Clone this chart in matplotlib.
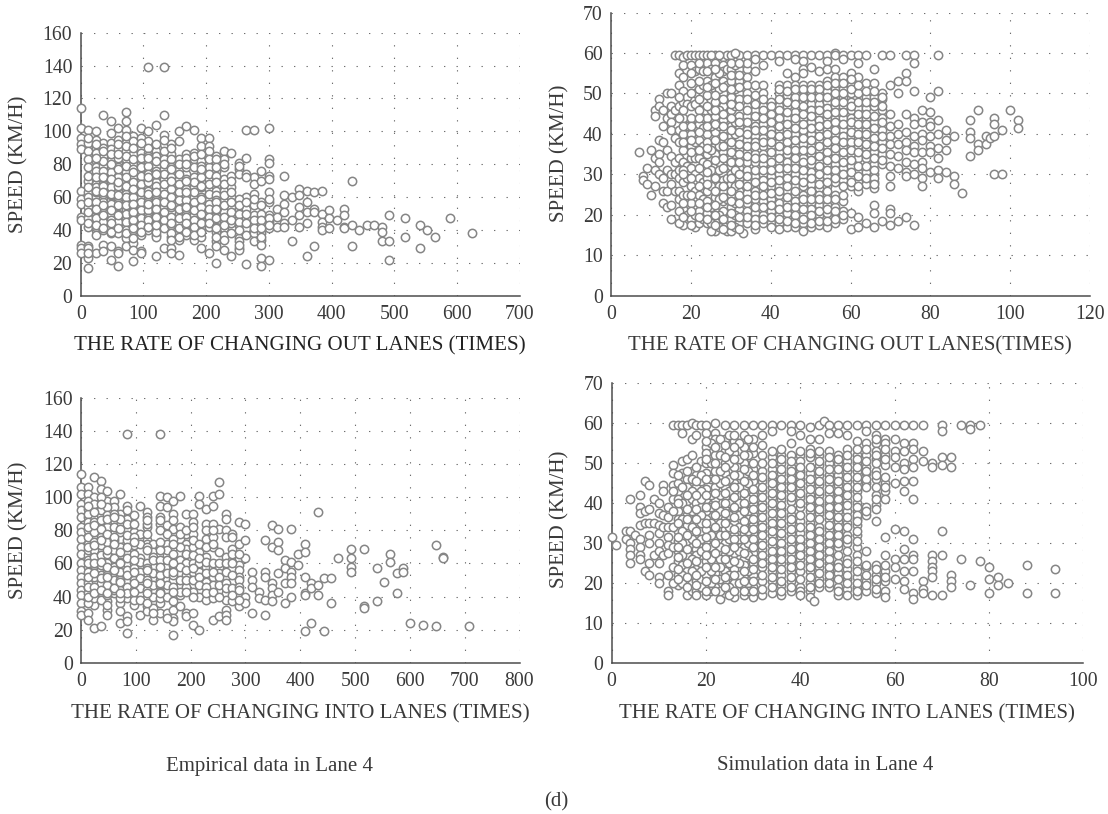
import matplotlib
matplotlib.use("Agg")
import matplotlib.pyplot as plt

plt.rcParams['font.family'] = ['Liberation Serif', 'DejaVu Serif']

W, H = 1108, 814

emp_out = [
 (0,[114,102,96,92,89,64,59,56,48,46,31,29,26]),
 (12,[101,93,88,83,78,70,63,60,54,47,42,30,29,23,17]),
 (24,[100,95,90,86,82,78,68,66,60,55,50,45,40,26]),
 (36,[110,93,90,85,79,70,65,60,57,51,47,43,31,27]),
 (48,[106,99,93,89,82,77,72,69,64,58,54,48,43,38,30,22]),
 (60,[102,95,89,80,75,70,65,63,58,52,47,43,40,27,26,18]),
 (72,[112,106,101,93,88,83,75,70,65,62,57,52,47,42,35,30]),
 (84,[97,94,86,80,72,67,62,58,53,48,43,37,32,28,21]),
 (96,[102,96,90,87,80,75,71,65,60,55,50,45,41,37,27,26]),
 (108,[139,100,94,87,82,77,71,67,60,54,49,44,40]),
 (120,[104,88,85,79,72,69,65,59,55,50,45,37,36,24]),
 (132,[139,110,98,92,86,77,71,65,59,54,49,44,29]),
 (144,[92,86,81,75,68,63,57,51,46,40,36,29,26]),
 (156,[100,94,83,77,71,66,61,56,50,44,38,34,25]),
 (168,[103,86,82,74,68,60,56,51,46,41,37]),
 (180,[101,87,83,72,66,60,54,49,44,40,34]),
 (192,[96,91,82,75,69,63,57,52,47,42,36,29]),
 (204,[96,91,86,78,71,65,59,51,46,42,26]),
 (216,[85,81,76,67,64,55,50,45,39,33,30,20]),
 (228,[88,83,78,71,64,58,51,45,41,37,34,28]),
 (240,[87,73,66,60,54,48,44,24]),
 (252,[81,77,74,57,53,47,43,35,33,29,28]),
 (264,[101,84,74,60,53,47,41,37,19]),
 (276,[101,72,68,62,55,49,44,38,33]),
 (288,[76,70,57,48,44,38,34,31,23,18]),
 (300,[102,83,81,73,71,63,57,49,45,41,22]),
 (312,[53,48,42]),(324,[73,61,56,51,44,42]),(336,[60,46,33]),
 (348,[65,61,54,49,42]),(360,[64,57,51,44,24]),(372,[63,53,51,30]),
 (384,[64,50,45,42,40]),(396,[52,47,41]),(408,[46]),(420,[53,49,42,41]),
 (432,[70,43,30]),(444,[40]),(456,[43]),(468,[43]),(480,[42,39,33]),
 (492,[49,33,22]),(516,[47,36]),(540,[43,29]),(552,[40]),(564,[36]),
 (588,[47]),(624,[38]),
]
emp_out_dense = [
 (12,[96,73,66,57,51,44,26]),(24,[87,74,63,57,52,47,42,37]),
 (36,[88,82,74,68,62,54,45,40]),(48,[86,75,66,61,56,50,46,41]),
 (60,[92,84,78,72,67,60,55,50,45,38]),(72,[97,91,85,79,72,67,60,55,50,45,40,38]),
 (84,[90,83,77,69,64,60,55,50,45,40,35]),(96,[93,84,78,73,68,63,57,52,47,43,39]),
 (108,[90,85,79,74,69,64,57,52,47,42]),(120,[92,82,76,74,67,62,57,52,47,42,39]),
 (132,[95,88,83,80,74,68,62,57,51,46,41]),(144,[90,83,78,72,65,60,54,48,43,38]),
 (156,[80,74,68,63,58,53,47,41,36]),(168,[84,78,71,65,58,53,48,43,39]),
 (180,[85,78,69,63,57,52,46,42,37]),(192,[86,79,72,66,60,54,49,44]),
 (204,[88,83,74,68,62,56,53,48,44]),(216,[83,78,72,61,58,52,47,42,36]),
 (228,[80,68,61,55,48,43]),(240,[70,63,57,51,46,38]),(252,[79,59,55,50,45,40,31]),
 (264,[72,57,50,44]),(276,[59,46,41]),(288,[55,50,46,41,36]),(300,[59,47,43]),
 (24,[92,84,76,72,64,53,43]),(36,[76,72,67,63,55,49,41]),(48,[80,71,62,52,44,39]),
 (60,[86,77,69,61,49,41]),(84,[75,65,56,51,46,41]),(108,[84,72,62,56,46,42]),
 (120,[74,63,53,48,43]),(144,[77,70,55,44,34]),(168,[80,70,63,54,44]),
 (192,[77,67,59,50,39]),(216,[73,69,57,53,41]),
]

sim_out = [
 (7,[35.5]),(8,[29.5,28.5]),(9,[31.5,27.5]),(10,[36,25]),
 (11,[46,44.5,34,31,27]),(12,[48.5,47,38.5,35,33,30]),
 (13,[46,42,38,29,26,23]),(14,[50,44,36,31,26,22]),
 (15,[50,47,45,43,41,34.5,30,27.5,22.5,19]),(16,[59.5,46,39,33,30,26]),
 (17,[59.5,52,47,41,34,29,26,24]),
 (18,[59,57,50.5,48,44,40,36,33,28,25,21.5,17.5]),
 (19,[59.5,49,47.5,42,38,32,29,25,20]),
 (20,[59.5,57,52.5,47,44,40,37,34,31.5,27,23,19]),
 (21,[59.5,55.5,50,47.5,42,38,34,30,26,20,17]),
 (22,[59.5,56,51,46,42.5,38.5,34,29,25,21,18]),
 (23,[59.5,55.5,52,48,44,41.5,37,33,28,24,19]),
 (24,[59.5,57.5,53,49.5,44,40,38,35,32.5,29,26,23.5,20.5,18]),
 (26,[59.5,57.5,54,51,48,44.5,40.5,37,35,32,30,27,24.5,21,18.5,16]),
 (28,[59,57,55.5,53,50,47,43.5,41,38,35.5,33,30,28.5,26,23.5,21,17.5]),
 (29,[59.5,56,52,45,39,34,29,24,19,16]),
 (30,[59.5,56,53,49,46,42,39.5,37,34,32,30,27.5,25,22,19,16]),
 (32,[59.5,56,53,50,48.5,44.5,42,39,36,34,31.5,29,26,25,21.5,18]),
 (33,[15.5]),
 (34,[59.5,56,54,52,50,47,44.5,41,38.5,35.5,33,31,28,25.5,23,21,18]),
 (36,[59.5,58.5,55.5,52,49.5,46,43,42,39.5,38,35,33,29.5,26,24,20.5,16.5]),
 (38,[59.5,57,52,50,47,45,42.5,39,37,35,32.5,30,28.5,26,23.5,20,18]),
 (40,[59.5,48,46,44,41,39,37,34,32,29.5,27,24,21,18,17]),
 (42,[59.5,58,52,50,47,45.5,43,41,38,35.5,33,30,27,25,23,20,18,16.5]),
 (44,[59.5,55,52,49.5,47,44,41,39,37,35,33,30.5,28,26,23,20.5,17]),
 (46,[59.5,58.5,54,52,49,45.5,43,40,37,35.5,33,30,27,25,23.5,21,19,17]),
 (48,[59.5,58,56,52,50.5,48,46,44,41,37.5,34,32,29.5,27,25,23,20,18,16]),
 (50,[59.5,56.5,52,50,47.5,46,43,40,37,35,32.5,30.5,27.5,25,23,21.5,19,17]),
 (52,[59.5,55.5,52,50,47.5,45,43.5,41,38.5,36,33,31,29,26.5,25,22.5,20,17.5]),
 (54,[59.5,58,56,53,50.5,48,46.5,44,41,39,37,34.5,32.5,29.5,27,25,22.5,20.5,17]),
 (56,[60,59.5,56,54,51,49,47,44,42.5,40,37.5,35.5,32.5,30,28,25,22,20.5,18]),
 (58,[59.5,58.5,54,51,49,47,44,41,39.5,37,34,31.5,28.5,23.5,21,19]),
 (60,[59.5,55,52,50,48,46,44,42,39.5,37,35,32,29,27,20.5,16.5]),
 (62,[59.5,57.5,54,50,46.5,44,41,39,37,34,30.5,28,26,19.5,17]),
 (64,[59.5,52.5,49,46.5,44,41,39,36.5,34,30.5,27.5,18]),
 (66,[56,52.5,49,47,43,40,38,35.5,32.5,30,28,26.5,22.5,20.5,17]),
 (68,[59.5,50,48.5,46,44,41,38,35,32.5,18.5]),
 (70,[59.5,52,45,42,39.5,37.5,35,32,29.5,27,21.5,20.5,17.5]),
 (72,[53,50,42.5,40,37.5,34.5,31.5,18.5]),
 (74,[59.5,55,53,45,40.5,38,36,33,30.5,29.5,19.5]),
 (76,[59.5,57.5,50.5,44,42.5,39.5,37,35.5,32.5,30,17.5]),
 (78,[46,43,40,38.5,35.5,33,31.5,29,27]),
 (80,[49,45.5,43,42,39.5,37,35.5,30.5]),
 (82,[59.5,50.5,43.5,40,36.5,34,31,29]),
 (84,[41,38.5,36,30.5]),(86,[39.5,29.5,27.5]),(88,[25.5]),
 (90,[43.5,40.5,39,34.5]),(92,[46,37.5,36]),(94,[39.5,37.5]),(95,[39]),
 (96,[44,42.5,39.5,30]),(98,[41,30]),(100,[46]),(102,[43.5,41.5]),
]
sim_out_dense = [
 (17,[55,49,44,38,31,21,18]),(25,[59.5,56,52,46,42,36,31,27,22,18,16]),
 (27,[59.5,55,51,46,42,37,33,31,27,24,20,17]),(31,[60,57,51,47,43,40,35,31,27,23,20,17]),
 (34,[57.5,48.5,46,43,40,37,34.5,29.5,27,24,19.5]),
 (36,[47.5,44.5,41,37,34,31,28,25,22,19,17.5]),
 (38,[48.5,46,44,41,38,34,31,27,25,22,19]),
 (40,[47,45,43,40,38,35.5,33,31,28,25.5,22.5,19.5]),
 (42,[51,48.5,46,44,42,39.5,37,34,31.5,28.5,26,21.5,19]),
 (44,[50.5,48,45.5,42.5,40,38,36,31.5,29,27,24.5,22,18.5]),
 (46,[51,47.5,44,41.5,38.5,36,34,31.5,28.5,26,22,20,18]),
 (48,[55,51,49,47,45,42.5,39,36,33,31,28,24,21.5,19]),
 (50,[51,49,44.5,41.5,38.5,36,33.5,29,26,24,20,18]),
 (52,[51,49,46,42,39.5,37,34.5,32,30,27.5,24,21,18.5]),
 (54,[52,49,45,42.5,40,38,35.5,33.5,31,28,26,24,21.5,18.5]),
 (56,[52.5,50,48,45.5,43,41,38.5,36.5,34,31,29,24,21,19]),
 (58,[52.5,50,48,45.5,42.5,38,35.5,33,30,27,25,20]),
 (60,[53.5,51,47,43,40.5,38,36,33.5,30.5,28]),
 (62,[52,48,45,42.5,40,38,35.5,32,29.5,27]),
 (64,[50.5,48,45,42.5,40,37.5,35,32,29]),
 (66,[50.5,48,44.5,41.5,39,37,34,31,29,27.5]),
 (68,[49,47,43,39.5,36.5,33.5]),
 (18,[54,46,42,38,31,30,23,19.5]),(20,[55,50,42,38.5,35.5,29,25,21,17.5]),
 (22,[57.5,53,48.5,44,40.5,36,31.5,27,23,19.5]),(24,[55.5,51.5,47,42,36.5,30.5,27.5,22,19]),
 (26,[56,52.5,49.5,46,42.5,38.5,33.5,29,26,22.5,20,17.5]),
 (28,[51.5,48.5,45,42,39.5,37,34,31.5,27,24.5,19,16.5]),
 (30,[57.5,54.5,51,47.5,44,41,38,35.5,33,29,26,23.5,20.5,17.5]),
 (32,[57.5,54.5,51.5,47,43,40.5,37.5,35,33,30,27.5,23,19.5,16.5]),
]

emp_in = [
 (0,[114,106,102,96,92,88,82,79,75,70,66,60,56,52,48,44,41,36,31,29]),
 (12,[106,102,93,88,80,72,65,58,50,45,30,26]),
 (24,[112,100,93,88,82,76,70,66,62,56,48,40,37,35,21]),
 (36,[110,105,94,89,84,79,68,63,56,46,41,22]),
 (48,[104,98,85,80,75,70,63,56,50,44,37,32,29]),
 (60,[98,94,86,78,70,66,61,53,47,42]),
 (72,[102,90,83,75,64,58,53,47,36,31,24]),
 (84,[138,95,87,80,74,66,60,50,39,28,25,18]),
 (96,[89,79,71,60,53,46,41,35]),
 (108,[95,78,63,58,48,42,29]),
 (120,[91,88,82,74,72,54,47,39,34,31]),
 (132,[72,67,60,58,50,44,33,26]),
 (144,[138,101,95,88,84,80,70,65,50,36,30]),
 (156,[100,94,83,72,65,58,50,44,30]),
 (168,[98,90,81,70,62,56,50,41,32,27,25,17]),
 (180,[101,82,75,62,54,46,41,34]),
 (192,[90,78,72,69,60,53,46,30,28]),
 (204,[90,85,78,70,60,55,43,30,23]),
 (216,[101,96,67,60,55,40,20]),
 (228,[93,84,80,75,64,58,49,38]),
 (240,[101,95,84,76,70,57,52,47,39,26]),
 (252,[109,102,81,67,58,54,43,28]),
 (264,[90,87,80,76,64,52,42,38,32,29,26]),
 (276,[78,76,69,62,49,37]),
 (288,[85,72,63,59,56,52,41,34]),
 (300,[84,74,63,40,36]),(312,[55,50,46,30]),(324,[43,39]),
 (336,[74,55,52,38,29]),(348,[83,70,48,45,41,37]),(360,[81,73,68,54,43]),
 (372,[62,57,48,36]),(384,[81,61,55,52,48,40]),(396,[66,59]),
 (408,[72,67,52,42,41,19]),(420,[48,45,24]),(432,[91,47,41]),(444,[51,19]),
 (456,[51,36]),(468,[63]),(492,[69,63,58,55]),(516,[69,34,33]),(540,[57,37]),
 (552,[49]),(564,[66,61]),(576,[54,42]),(588,[57,55]),(600,[24]),(624,[23]),
 (648,[71,22]),(660,[64,63]),(708,[22]),
]
emp_in_dense = [
 (12,[98,90,85,76,68,62,55,48,42,36]),(24,[96,85,79,73,68,64,59,52,44,39]),
 (36,[100,92,86,76,71,65,59,53,48,43,38]),(48,[94,89,82,77,73,66,60,53,47,41,35]),
 (60,[90,82,74,68,63,58,50,44]),(72,[87,79,70,61,55,50,44,39]),
 (84,[92,84,77,70,63,56,53,46,42]),(96,[76,66,57,50,44,38]),
 (108,[72,61,55,51,45,38]),(120,[84,78,70,60,57,50,44,36]),
 (132,[64,62,54,47,40,30]),(144,[86,73,62,56,53,47,43,39]),
 (156,[78,68,62,54,47,40,27]),(168,[86,75,66,59,53,46,37]),
 (180,[78,70,58,50,43]),(192,[80,66,56,50,43]),(204,[82,74,65,57,50,40]),
 (216,[72,63,52,47]),(228,[70,61,54,46,42]),(240,[80,72,60,55,43]),
 (252,[60,52,47,40]),(264,[60,55,48,45]),(276,[66,60,53,45,41]),(288,[66,50,46,44,38]),
 (12,[95,82,70,60,52,46,40]),(24,[91,83,71,60,54,46,42]),(36,[96,81,74,61,51,44]),
 (48,[87,78,68,58,52,42]),(60,[88,76,72,56,45]),(72,[81,67,60,49,42]),
 (96,[84,73,62,55,48,43]),(120,[86,68,56,48,42]),(144,[68,58,48,42]),(168,[72,60,55,43]),
]

sim_in = [
 (0,[31.5]),(1,[29.5]),(3,[33,31]),(4,[41,33,30,28.5,27,25]),(5,[32]),
 (6,[42,39,37.5,34.5,31,29,27,26]),(7,[45.5,38,35,23]),
 (8,[44.5,38.5,35,32,30,25,22]),(9,[41,35,27]),
 (10,[40,37.5,34.5,32.5,30,28,25,21.5,20]),(11,[44.5,43,37,34,27]),
 (12,[39,36.5,34,31.5,29.5,27.5,22,18,17]),(13,[59.5,49.5,47.5,44.5,41]),
 (14,[59.5,45,43,41,38,36,33,30.5,28,25.5,22,19.5]),(15,[59.5,57.5,50.5,47.5,24.5,20]),
 (16,[59.5,51,46,44,40.5,37,34.5,30,27,23,17]),(17,[60,56,48,41,36,29,20,18]),
 (18,[59.5,57,47,44,40,37,34.5,31,28.5,27,23.5,20.5,18,17]),
 (19,[59.5,50.5,45.5,39,33,25,21]),
 (20,[59.5,57.5,54,52.5,50,47.5,43.5,41,38,36,33.5,30,28,25.5,22,19,17]),
 (22,[60,57.5,56,52,48,44,41,38.5,35.5,33,31.5,29,26,22.5,19]),(23,[16]),
 (24,[59.5,56,53,50,47.5,44,41.5,39,36,33.5,30,27,25,23,20.5,17.5]),
 (26,[59.5,55.5,52.5,49,45,43,40,38,35,32,30,27.5,23.5,20,16.5]),
 (28,[59.5,57,54,50,47,44,41.5,39,37,34.5,32.5,29,26,24.5,22,19,17]),
 (30,[59.5,56,52.5,48.5,45.5,42,40,37,35,32.5,30,27.5,25,22,19,16.5]),
 (32,[59.5,57,52,48,45.5,43,40,38,35,33,30.5,28.5,26,24,20.5,17]),
 (34,[59.5,58,51.5,48.5,46,44,41.5,39,36,34,32,29.5,27,25,23,20.5,17.5]),
 (36,[59.5,52,50,47.5,45,43,41,38.5,36.5,34,31.5,29,27,25,22,19.5,17]),
 (38,[59.5,58,55,52,49,47,45,43,40.5,37,35,32.5,30,27.5,25,23,20.5,18]),
 (40,[59.5,57,52,48,46,44,41.5,39,35.5,32.5,30,28,26,23,19]),
 (42,[59,56,53.5,51.5,47.5,45,42,40,38,35,33,31,29,27,25,23,20,18,16.5]),
 (43,[15.5]),
 (44,[59.5,56,52,49.5,47,44.5,42,39.5,37.5,34,32,30,28,26,24,21,19]),
 (45,[60.5]),
 (46,[59.5,57.5,53,50,47,45,42.5,40,38,36,33.5,31,29,27,25,23,21,19]),
 (48,[59.5,57.5,52,50,47,44.5,42,40,38,35.5,33,31,29,25,22.5,19,17]),
 (50,[59.5,57,53.5,50.5,48,45.5,43,40.5,38,35,32,30,26,23.5,21,18.5,17]),
 (52,[59.5,55.5,52,50,48,45.5,43,40,38,36,34.5,32,29,27,24,21.5,19,17]),
 (54,[59.5,58,55,52,49,47.5,45,39,37,28,24,20.5,18]),
 (56,[59.5,57,55,53,51,48,46,42,39.5,35.5,24.5,22,20,17.5]),
 (58,[59.5,56,55,52,49.5,45,43,41,31.5,27,23,20.5,18,16.5]),
 (60,[59.5,56,53,51.5,49,45,33.5,26,24,21]),
 (62,[59.5,55,53,50,48.5,45.5,43,33,28.5,26,23,20.5,18.5]),
 (64,[59.5,55,53.5,51,49,45.5,41,31,27,26,23,17.5,16]),
 (66,[59.5,53,50.5,20.5,18.5,17.5]),(68,[50,49,27,25.5,24,23,21.5,17]),
 (70,[59.5,58,51.5,49.5,33,27,17]),(72,[51.5,49,22,20.5,19]),
 (74,[59.5,26]),(76,[59.5,58.5,19.5]),(78,[59.5,25.5]),(80,[24,21,17.5]),
 (82,[21.5,19.5]),(84,[20]),(88,[24.5,17.5]),(94,[23.5,17.5]),
]
sim_in_dense = [
 (13,[43,38,34,29,24,20]),(15,[44,40,36,33,30,27,22]),(17,[52,46,43,38,34,31,26,23]),
 (19,[47,43,41,37,35,31,28,23,19]),(21,[55,50,46,42,39,35,32,29,26,23,20,18]),
 (23,[56,52,48,45,42,38,35,32,29,26,24,21,18]),
 (25,[57,53,50,46,43,40,37,34,31,28,25,22,19,17]),
 (27,[55,51,47,44,40,37,34,31,28,25,22,20]),
 (29,[56,52,48,45,41,38,36,33,30,27,23,20,18]),
 (28,[52,48.5,45.5,42.5,40,38,35.5,33.5,31,27.5,23,20.5,18]),
 (30,[54,50,47,43.5,41,38.5,36,33.5,31,29,26,23.5,20.5,18]),
 (32,[54.5,50,46.5,44,41.5,39,36.5,34,32,29.5,27,25,22,18.5]),
 (34,[53,50,47,45,42.5,40,37.5,35,33,30.5,28,26,24,21.5,19]),
 (36,[53.5,51,48.5,46,44,42,39.5,37.5,35,32.5,30,28,26,23.5,20.5,18]),
 (38,[50.5,48,46,44,41.5,38.5,36,33.5,31,28.5,26,24,21.5,19]),
 (40,[53,50.5,49,47,45,42.5,40,37,34,31,29,27,24.5,21,18,17]),
 (42,[52.5,49,46,43.5,41,39,36.5,34,32,30,28,26,24,21.5,19]),
 (44,[53,50.5,48,45.5,43,40.5,38.5,36,33,31,29,27,25,22.5,20]),
 (46,[51.5,48.5,46,43.5,41,39,37,34.5,32,30,28,26,24,22,20]),
 (48,[51,48.5,45.5,43,41,39,36.5,34,32,30,27,24,21,18]),
 (50,[52,49,46.5,44,42,39.5,36.5,34,31,28,25,22,20]),
 (52,[53.5,51,49,46.5,44,41.5,39,37,35.5,33,30.5,25.5,23,20,18]),
 (54,[53.5,50.5,48,46,44,38,24.5,22,19.5]),
 (56,[56,52,50,47,44,41,38.5,23.5,21,18.5]),
 (58,[53.5,51,46.5,44,24.5,21.5]),
 (14,[47,40,35,31.5,29,26.5,23.5,21]),(16,[48,42,38.5,36,32,28.5,25,21.5,19]),
 (18,[49,45.5,42,38.5,36,33,30,25.5,22,19.5]),
 (20,[55.5,51,46,42,39,35,31.5,29,27,24,20.5,18]),
 (22,[54,50,46,42.5,39.5,37,34,30,27.5,24,21,18]),
 (24,[54.5,51.5,49,45.5,42.5,40,37.5,35,32,28.5,26,21.5,19]),
 (26,[57,54,51,47,44,41.5,39,36.5,33.5,31,29,25.5,22,18]),
]

x_labels = ["THE RATE OF CHANGING OUT LANES (TIMES)",
            "THE RATE OF CHANGING OUT LANES(TIMES)",
            "THE RATE OF CHANGING INTO LANES (TIMES)",
            "THE RATE OF CHANGING INTO LANES (TIMES)"]
y_label = "SPEED (KM/H)"
captions = ["Empirical data in Lane 4", "Simulation data in Lane 4", "(d)"]

EDGE = '#858585'
GRID = '#6e6e6e'
AXIS = '#4d4d4d'
TEXT = '#3a3a3a'

panels = [
 dict(data=emp_out + emp_out_dense, box=(80.7, 520, 32.7, 295.7), xmax=700, xstep=100, ymax=160, ystep=20,
      xl=x_labels[0], xlc=(300, 346), ylc=(19, 164), xlcol='#222222', xs=15.1),
 dict(data=sim_out + sim_out_dense, box=(611, 1090, 12.5, 295.7), xmax=120, xstep=20, ymax=70, ystep=10,
      xl=x_labels[1], xlc=(850, 346), ylc=(560, 153), xlcol=TEXT, xs=15.0),
 dict(data=emp_in + emp_in_dense, box=(81, 519.5, 398, 662.7), xmax=800, xstep=100, ymax=160, ystep=20,
      xl=x_labels[2], xlc=(300, 714), ylc=(19, 530), xlcol=TEXT, xs=15.1),
 dict(data=sim_in + sim_in_dense, box=(611.5, 1083.3, 382.5, 662.7), xmax=100, xstep=20, ymax=70, ystep=10,
      xl=x_labels[3], xlc=(847, 714), ylc=(560, 519), xlcol=TEXT, xs=15.05),
]

fig = plt.figure(figsize=(W / 100, H / 100), dpi=100, facecolor='white')

for p in panels:
    l, r, t, b = p['box']
    ax = fig.add_axes([l / W, 1 - b / H, (r - l) / W, (b - t) / H])
    xs, ys = [], []
    for x, vals in p['data']:
        xs += [x] * len(vals)
        ys += vals
    ax.plot(xs, ys, ls='none', marker='o', ms=6.0, mew=1.1, mec=EDGE, mfc='white',
            clip_on=False, zorder=3)
    ax.set_xlim(0, p['xmax'])
    ax.set_ylim(0, p['ymax'])
    ax.set_xticks(range(0, p['xmax'] + 1, p['xstep']))
    ax.set_yticks(range(0, p['ymax'] + 1, p['ystep']))
    ax.grid(True, color=GRID, lw=0.8, ls=(0, (1.2, 10.05)), zorder=0)
    ax.set_axisbelow(True)
    for s in ('top', 'right'):
        ax.spines[s].set_visible(False)
    for s in ('left', 'bottom'):
        ax.spines[s].set_color(AXIS)
        ax.spines[s].set_linewidth(1.1)
        ax.spines[s].set_zorder(2)
    ax.tick_params(length=0, labelsize=14.2, labelcolor=TEXT)
    ax.tick_params(axis='x', pad=7)
    ax.tick_params(axis='y', pad=6)
    fig.text(p['xlc'][0] / W, 1 - p['xlc'][1] / H, p['xl'], ha='center', va='center',
             fontsize=p['xs'], color=p['xlcol'])
    fig.text(p['ylc'][0] / W, 1 - p['ylc'][1] / H, y_label, ha='center', va='center',
             rotation=90, fontsize=15, color=TEXT)

fig.text(270 / W, 1 - 766 / H, captions[0], ha='center', va='center', fontsize=15, color=TEXT)
fig.text(825 / W, 1 - 766 / H, captions[1], ha='center', va='center', fontsize=15, color=TEXT)
fig.text(556 / W, 1 - 802 / H, captions[2], ha='center', va='center', fontsize=15, color=TEXT)

fig.savefig('out.png', dpi=100, facecolor='white')
